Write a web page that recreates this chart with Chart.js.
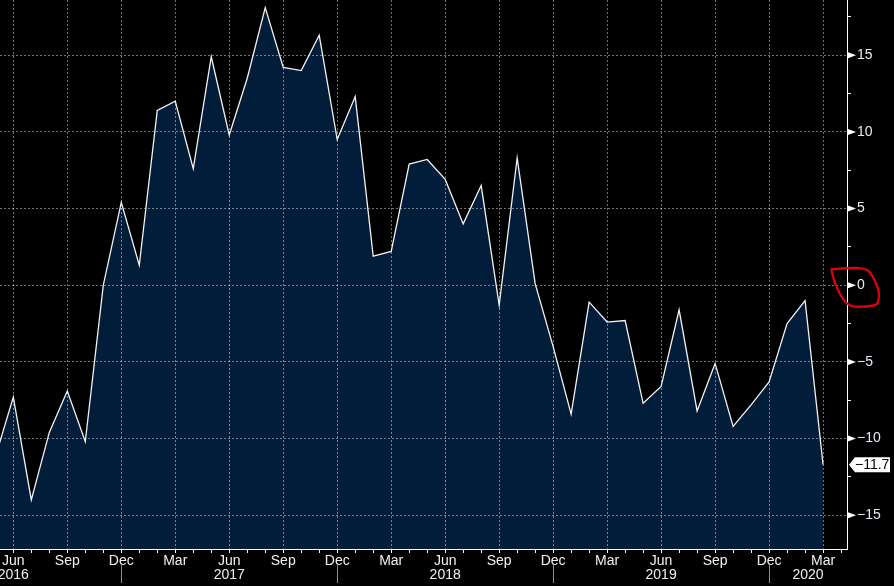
<!DOCTYPE html>
<html>
<head>
<meta charset="utf-8">
<script src="https://cdn.jsdelivr.net/npm/chart.js@4/dist/chart.umd.min.js"></script>
<style>
  html, body { margin: 0; padding: 0; background: #000; }
  #wrap { width: 894px; height: 586px; position: relative; }
</style>
</head>
<body>
<div id="wrap"><canvas id="c" width="894" height="586"></canvas></div>
<script>
// ---- data ----
const months = [
  'May 2016','Jun 2016','Jul 2016','Aug 2016','Sep 2016','Oct 2016','Nov 2016','Dec 2016',
  'Jan 2017','Feb 2017','Mar 2017','Apr 2017','May 2017','Jun 2017','Jul 2017','Aug 2017','Sep 2017','Oct 2017','Nov 2017','Dec 2017',
  'Jan 2018','Feb 2018','Mar 2018','Apr 2018','May 2018','Jun 2018','Jul 2018','Aug 2018','Sep 2018','Oct 2018','Nov 2018','Dec 2018',
  'Jan 2019','Feb 2019','Mar 2019','Apr 2019','May 2019','Jun 2019','Jul 2019','Aug 2019','Sep 2019','Oct 2019','Nov 2019','Dec 2019',
  'Jan 2020','Feb 2020','Mar 2020'
];
const values = [
  -11.2, -7.3, -14.0, -9.6, -6.9, -10.2, 0.0, 5.4,
  1.3, 11.4, 12.0, 7.6, 14.9, 9.8, 13.5, 18.1, 14.2, 14.0, 16.3, 9.5,
  12.3, 1.9, 2.2, 7.9, 8.2, 6.9, 4.0, 6.5, -1.3, 8.3, 0.1, -4.0,
  -8.4, -1.1, -2.4, -2.3, -7.7, -6.6, -1.6, -8.2, -5.1, -9.2, -7.8, -6.3,
  -2.5, -1.0, -11.7
];
const labeledMonths = ['Mar', 'Jun', 'Sep', 'Dec'];
const years = ['2016', '2017', '2018', '2019', '2020'];
const yTickStep = 2.5;
const yLabelStep = 5;

// ---- helpers ----
const monthName = i => (months[i] ? months[i].split(' ')[0] : '');
const isQuarter = i => labeledMonths.includes(monthName(i));
const fmt = v => (v < 0 ? '\u2212' + Math.abs(v) : String(v));
const FONT = '"Liberation Sans", Arial, sans-serif';
const GRID = 'rgba(255,255,255,0.45)';

const points = values.map((v, i) => ({ x: i, y: v }));

const decor = {
  id: 'decor',
  afterDraw(chart) {
    const { ctx, scales: { x, y } } = chart;
    ctx.save();
    // major tick triangles on right axis
    ctx.fillStyle = '#ffffff';
    y.ticks.forEach(t => {
      if (Math.abs(t.value % yLabelStep) < 1e-9) {
        const py = y.getPixelForValue(t.value);
        ctx.beginPath();
        ctx.moveTo(y.left + 1, py - 3);
        ctx.lineTo(y.left + 9, py);
        ctx.lineTo(y.left + 1, py + 3);
        ctx.closePath();
        ctx.fill();
      }
    });
    // year separators (at December) and year labels
    ctx.strokeStyle = '#8a8a8a';
    ctx.lineWidth = 1;
    months.forEach((m, i) => {
      if (!m.startsWith('Dec')) return;
      const px = Math.round(x.getPixelForValue(i)) + 0.5;
      ctx.beginPath();
      ctx.moveTo(px, x.top + 16);
      ctx.lineTo(px, x.top + 34);
      ctx.stroke();
    });
    ctx.fillStyle = '#f0f0f0';
    ctx.font = '14px ' + FONT;
    ctx.textAlign = 'center';
    ctx.textBaseline = 'middle';
    years.forEach(yr => {
      const idx = months.indexOf('Jun ' + yr);
      let px;
      if (idx >= 0) {
        px = x.getPixelForValue(idx);
      } else {
        const prevDec = months.indexOf('Dec ' + (Number(yr) - 1));
        px = (x.getPixelForValue(prevDec) + x.right) / 2;
      }
      ctx.fillText(yr, px, x.top + 26);
    });
    // last value tag
    const last = values[values.length - 1];
    const ly = y.getPixelForValue(last);
    const lx = y.left + 2;
    ctx.fillStyle = '#ffffff';
    ctx.beginPath();
    ctx.moveTo(lx, ly);
    ctx.lineTo(lx + 6, ly - 7.5);
    ctx.lineTo(lx + 41, ly - 7.5);
    ctx.lineTo(lx + 41, ly + 7.5);
    ctx.lineTo(lx + 6, ly + 7.5);
    ctx.closePath();
    ctx.fill();
    ctx.fillStyle = '#000000';
    ctx.textAlign = 'left';
    ctx.fillText(fmt(last), lx + 6, ly + 0.5);
    // hand-drawn red loop around the zero label
    const ox = y.left, oy = y.getPixelForValue(0);
    const loop = [[-15.5,-16],[3,-17.5],[19.5,-17],[26,-9],[29.5,-1],[32.3,7],[31.5,15],[30,19.7],
                  [18,21.5],[6.3,21.4],[1.3,19.5],[-4,14],[-8,7],[-12,-2],[-14.5,-10],[-15.5,-16]];
    ctx.strokeStyle = '#e8000b';
    ctx.lineWidth = 2.2;
    ctx.lineJoin = 'round';
    ctx.lineCap = 'round';
    ctx.beginPath();
    ctx.moveTo(ox + loop[0][0], oy + loop[0][1]);
    for (let i = 1; i < loop.length - 1; i++) {
      const mx = (loop[i][0] + loop[i + 1][0]) / 2, my = (loop[i][1] + loop[i + 1][1]) / 2;
      ctx.quadraticCurveTo(ox + loop[i][0], oy + loop[i][1], ox + mx, oy + my);
    }
    ctx.lineTo(ox + loop[loop.length - 1][0], oy + loop[loop.length - 1][1]);
    ctx.stroke();
    ctx.restore();
  }
};

new Chart(document.getElementById('c'), {
  type: 'line',
  data: {
    datasets: [{
      data: points,
      borderColor: '#f2f2f2',
      borderWidth: 1.3,
      backgroundColor: '#021d3a',
      fill: 'start',
      pointRadius: 0,
      tension: 0
    }]
  },
  options: {
    responsive: false,
    animation: false,
    events: [],
    layout: { padding: 0, autoPadding: false },
    plugins: { legend: { display: false }, tooltip: { enabled: false }, title: { display: false } },
    scales: {
      x: {
        type: 'linear',
        position: 'bottom',
        min: 0.26,
        max: 47.33,
        afterFit: s => { s.height = 37; s.paddingLeft = 0; s.paddingRight = 0; s.paddingTop = 0; s.paddingBottom = 0; },
        grid: {
          z: 1,
          drawOnChartArea: true,
          color: c => (c.tick && isQuarter(c.tick.value) ? GRID : 'rgba(0,0,0,0)'),
          lineWidth: 1,
          drawTicks: true,
          tickLength: 4,
          tickColor: '#ffffff',
          tickWidth: 1,
          tickBorderDash: []
        },
        border: { display: true, color: '#ffffff', width: 1, dash: [2, 2], z: 2 },
        ticks: {
          stepSize: 1,
          includeBounds: false,
          autoSkip: false,
          maxRotation: 0,
          minRotation: 0,
          padding: 0,
          color: '#f0f0f0',
          font: { family: FONT, size: 14 },
          callback: v => (Number.isInteger(v) && isQuarter(v) ? monthName(v) : '')
        }
      },
      y: {
        type: 'linear',
        position: 'right',
        min: -17.2,
        max: 18.6,
        afterFit: s => { s.width = 47; s.paddingTop = 0; s.paddingBottom = 0; s.paddingLeft = 0; s.paddingRight = 0; },
        grid: {
          z: 1,
          color: c => (c.tick && Math.abs(c.tick.value % yLabelStep) < 1e-9 ? GRID : 'rgba(0,0,0,0)'),
          lineWidth: 1,
          drawTicks: true,
          tickLength: 4,
          tickColor: '#ffffff',
          tickWidth: 1,
          tickBorderDash: []
        },
        border: { display: true, color: '#ffffff', width: 1, dash: [2, 2], z: 2 },
        ticks: {
          stepSize: yTickStep,
          includeBounds: false,
          autoSkip: false,
          padding: 6,
          color: '#e3ebf7',
          font: { family: FONT, size: 14 },
          callback: v => (Math.abs(v % yLabelStep) < 1e-9 ? fmt(v) : '')
        }
      }
    }
  },
  plugins: [decor]
});
</script>
</body>
</html>
